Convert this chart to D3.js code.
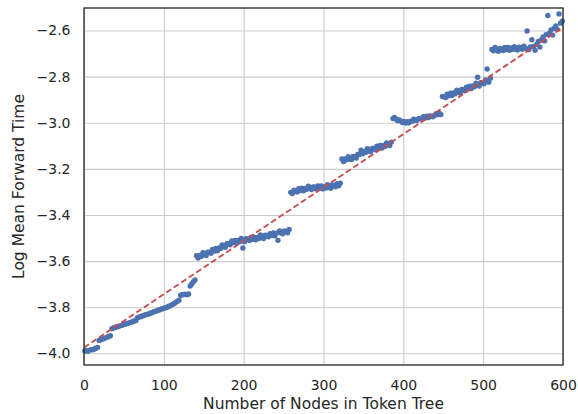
<!DOCTYPE html>
<html>
<head>
<meta charset="utf-8">
<script src="https://cdn.jsdelivr.net/npm/d3@7"></script>
<style>
  html, body { margin: 0; padding: 0; background: #fff; }
  svg { display: block; font-family: "DejaVu Sans", sans-serif; }
</style>
</head>
<body>
<div id="chart"></div>
<script>
// values, one array per step of the staircase
// each step: first node count, then log mean forward time every 2 nodes
const stepStarts = [1, 19, 35, 67, 111, 121, 133, 141, 259, 323, 387, 449, 511, 567];

const step0 = [-3.990, -3.988, -3.991, -3.986, -3.984, -3.985, -3.981, -3.978, -3.975];
const step1 = [-3.944, -3.941, -3.938, -3.936, -3.933, -3.930, -3.927, -3.924];
const step2 = [-3.893, -3.890, -3.888, -3.885, -3.884, -3.881, -3.879, -3.876,
  -3.874, -3.872, -3.870, -3.867, -3.865, -3.862, -3.860, -3.858];
const step3 = [-3.846, -3.843, -3.841, -3.838, -3.836, -3.833, -3.831, -3.829,
  -3.826, -3.824, -3.821, -3.818, -3.816, -3.813, -3.811, -3.808, -3.806, -3.803,
  -3.801, -3.798, -3.795, -3.792];
const step4 = [-3.788, -3.784, -3.779, -3.774, -3.770];
const step5 = [-3.748, -3.746, -3.745, -3.744, -3.746, -3.743];
const step6 = [-3.708, -3.699, -3.690, -3.682];
const step7 = [-3.577, -3.587, -3.576, -3.579, -3.564, -3.572, -3.576, -3.561,
  -3.561, -3.566, -3.550, -3.557, -3.545, -3.555, -3.543, -3.546, -3.530, -3.537,
  -3.540, -3.525, -3.525, -3.529, -3.513, -3.520, -3.510, -3.522, -3.511, -3.516,
  -3.502, -3.543, -3.516, -3.503, -3.505, -3.511, -3.497, -3.506, -3.496, -3.508,
  -3.497, -3.502, -3.487, -3.497, -3.502, -3.488, -3.490, -3.495, -3.481, -3.489,
  -3.478, -3.490, -3.479, -3.510, -3.469, -3.478, -3.482, -3.469, -3.471, -3.477,
  -3.463];
const step8 = [-3.302, -3.307, -3.293, -3.295, -3.300, -3.286, -3.294, -3.284,
  -3.295, -3.285, -3.289, -3.275, -3.285, -3.290, -3.278, -3.280, -3.287, -3.274,
  -3.283, -3.274, -3.287, -3.277, -3.283, -3.269, -3.279, -3.284, -3.270, -3.272,
  -3.278, -3.264, -3.273, -3.262];
const step9 = [-3.157, -3.168, -3.157, -3.161, -3.147, -3.156, -3.160, -3.146,
  -3.148, -3.153, -3.138, -3.138, -3.119, -3.135, -3.124, -3.128, -3.113, -3.122,
  -3.126, -3.112, -3.112, -3.117, -3.102, -3.110, -3.099, -3.110, -3.099, -3.103,
  -3.088, -3.096, -3.099, -3.084];
const step10 = [-2.982, -2.977, -2.985, -2.991, -2.988, -2.993, -2.999, -2.994,
  -3.001, -2.995, -3.000, -2.993, -2.994, -2.985, -2.989, -2.990, -2.982, -2.982,
  -2.983, -2.974, -2.979, -2.972, -2.978, -2.971, -2.972, -2.974, -2.969, -2.961,
  -2.965, -2.959, -2.964];
const step11 = [-2.886, -2.887, -2.891, -2.876, -2.883, -2.872, -2.882, -2.871,
  -2.874, -2.859, -2.867, -2.871, -2.856, -2.857, -2.861, -2.846, -2.853, -2.842,
  -2.852, -2.840, -2.844, -2.829, -2.803, -2.841, -2.826, -2.825, -2.831, -2.814,
  -2.767, -2.824, -2.807];
const step12 = [-2.682, -2.688, -2.674, -2.685, -2.690, -2.678, -2.681, -2.687,
  -2.673, -2.683, -2.674, -2.686, -2.676, -2.682, -2.670, -2.680, -2.685, -2.672,
  -2.675, -2.681, -2.668, -2.677, -2.602, -2.683, -2.671, -2.640, -2.669, -2.686];
const step13 = [-2.660, -2.648, -2.672, -2.640, -2.628, -2.645, -2.618, -2.535,
  -2.612, -2.598, -2.620, -2.590, -2.580, -2.596, -2.528, -2.568, -2.560];

// dashed fit line
const fitIntercept = -3.975;
const fitSlope = 0.002314;

const xTicks = [0, 100, 200, 300, 400, 500, 600];
const yTicks = [-4.0, -3.8, -3.6, -3.4, -3.2, -3.0, -2.8, -2.6];

const steps = [step0, step1, step2, step3, step4, step5, step6, step7,
  step8, step9, step10, step11, step12, step13];

const points = [];
steps.forEach((vals, s) => {
  vals.forEach((v, i) => points.push({ nodes: stepStarts[s] + 2 * i, time: v }));
});

const width = 578;
const height = 414;
const margin = { top: 8, right: 15, bottom: 49, left: 84 };
const plotW = width - margin.left - margin.right;
const plotH = height - margin.top - margin.bottom;

const svg = d3.select('#chart')
  .append('svg')
  .attr('width', width)
  .attr('height', height);

const g = svg.append('g')
  .attr('transform', 'translate(' + margin.left + ',' + margin.top + ')');

const x = d3.scaleLinear().domain([0, 600]).range([0, plotW]);
const y = d3.scaleLinear().domain([-4.0507, -2.5024]).range([plotH, 0]);

// grid
g.append('g')
  .attr('class', 'grid')
  .attr('transform', 'translate(0,' + plotH + ')')
  .call(d3.axisBottom(x).tickValues(xTicks).tickSize(-plotH).tickFormat(''))
  .call(sel => sel.select('.domain').remove());
g.append('g')
  .attr('class', 'grid')
  .call(d3.axisLeft(y).tickValues(yTicks).tickSize(-plotW).tickFormat(''))
  .call(sel => sel.select('.domain').remove());
g.selectAll('.grid line')
  .attr('stroke', '#cccccc')
  .attr('stroke-width', 1.1);

// points
g.append('g')
  .selectAll('circle')
  .data(points)
  .enter().append('circle')
  .attr('cx', d => x(d.nodes))
  .attr('cy', d => y(d.time))
  .attr('r', 2.7)
  .attr('fill', '#4c72b0');

// fit line
const line = d3.line()
  .x(d => x(d))
  .y(d => y(fitIntercept + fitSlope * d));
g.append('path')
  .datum([0, 600])
  .attr('d', line)
  .attr('fill', 'none')
  .attr('stroke', '#c44e52')
  .attr('stroke-width', 1.9)
  .attr('stroke-dasharray', '6,3');

// axes labels
const xAxis = g.append('g')
  .attr('transform', 'translate(0,' + plotH + ')')
  .call(d3.axisBottom(x).tickValues(xTicks).tickSize(0).tickPadding(15).tickFormat(d3.format('d')));
const yAxis = g.append('g')
  .call(d3.axisLeft(y).tickValues(yTicks).tickSize(0).tickPadding(13.5).tickFormat(d3.format('.1f')));
[xAxis, yAxis].forEach(a => {
  a.select('.domain').remove();
  a.selectAll('text')
    .style('font-family', '"DejaVu Sans", sans-serif')
    .style('font-size', '14px')
    .attr('fill', '#262626');
});

// frame
g.append('rect')
  .attr('width', plotW)
  .attr('height', plotH)
  .attr('fill', 'none')
  .attr('stroke', '#262626')
  .attr('stroke-width', 1.3);

svg.append('text')
  .attr('x', margin.left + plotW / 2)
  .attr('y', 409)
  .attr('text-anchor', 'middle')
  .style('font-size', '15.5px')
  .attr('fill', '#262626')
  .text('Number of Nodes in Token Tree');

svg.append('text')
  .attr('transform', 'translate(24,' + (margin.top + plotH / 2) + ') rotate(-90)')
  .attr('text-anchor', 'middle')
  .style('font-size', '15.5px')
  .attr('fill', '#262626')
  .text('Log Mean Forward Time');
</script>
</body>
</html>
